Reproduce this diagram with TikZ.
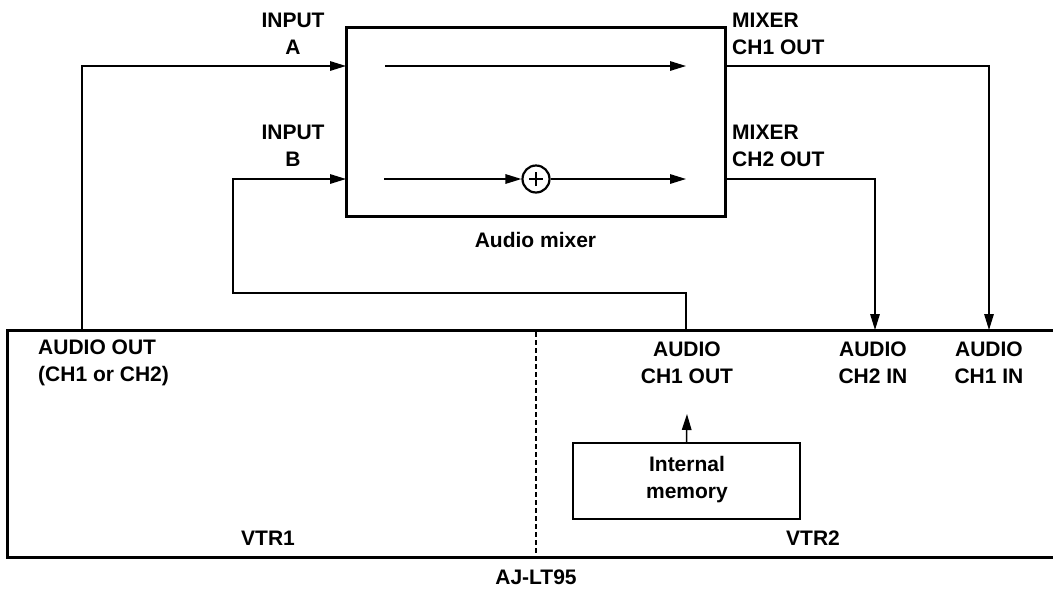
\documentclass[tikz,border=0pt]{standalone}
\usepackage{fontspec}
\setmainfont{Liberation Sans}
\usetikzlibrary{arrows.meta}
\tikzset{
  lbl/.style={font=\fontsize{21}{27}\selectfont\bfseries, inner sep=0pt, align=center},
  lbll/.style={font=\fontsize{21}{27}\selectfont\bfseries, inner sep=0pt, align=left},
  arr/.style={line width=1.5pt, -{Triangle[length=16pt,width=9.5pt]}},
  bigbox/.style={draw, line width=3pt, inner sep=0pt},
  smallbox/.style={draw, line width=1.5pt, inner sep=0pt},
}
\begin{document}
\begin{tikzpicture}[x=1pt,y=-1pt]
\useasboundingbox (0,0) rectangle (1053,590);
\clip (0,0) rectangle (1053,590);
% mixer
\node[bigbox, minimum width=379pt, minimum height=189pt] (mixer) at (535.5,121.5) {};
\coordinate (inA) at (346,66);
\coordinate (inB) at (346,179);
\coordinate (outA) at (725,66);
\coordinate (outB) at (725,179);
\node[lbl] (mixlbl) at (535.5,240) {Audio mixer};
% inner paths
\coordinate (a1s) at (385,66);
\coordinate (a1e) at (686,66);
\coordinate (a2s) at (384,179);
\coordinate (a2e) at (686,179);
\node[draw, circle, line width=2.2pt, minimum size=27pt, inner sep=0pt] (sum) at (536,179) {};
\draw[line width=2.3pt] ([xshift=-7pt]sum.center) -- ([xshift=7pt]sum.center)
  ([yshift=-7pt]sum.center) -- ([yshift=7pt]sum.center);
\draw[arr] (a1s) -- (a1e);
\draw[arr] (a2s) -- (sum.west);
\draw[arr] (sum.east) -- (a2e);
% labels around mixer
\node[lbl] (inpA) at (293,33.5) {INPUT\\A};
\node[lbl] (inpB) at (293,145.5) {INPUT\\B};
\node[lbll, anchor=west] (mxA) at (732,33.5) {MIXER\\CH1 OUT};
\node[lbll, anchor=west] (mxB) at (732,145.5) {MIXER\\CH2 OUT};
% VTR box
\draw[line width=3pt] (1070,330) -- (7,330) -- (7,557) -- (1070,557);
\draw[line width=1.1pt, dash pattern=on 5pt off 3pt] (536,332) -- (536,555);
\node[lbl] (vtr1) at (268,538) {VTR1};
\node[lbl] (vtr2) at (813,538) {VTR2};
\node[lbl] (aj) at (536,577) {AJ-LT95};
% vtr ports
\coordinate (v1out) at (82,330);
\coordinate (v2out) at (686,330);
\coordinate (ch2in) at (875,330);
\coordinate (ch1in) at (989,330);
\coordinate (bturn) at (233,293);
\node[lbll, anchor=west] (aout) at (38,362.5) {AUDIO OUT\\(CH1 or CH2)};
\node[lbl] (a1o) at (687,362.5) {AUDIO\\CH1 OUT};
\node[lbl] (a2i) at (873,362.5) {AUDIO\\CH2 IN};
\node[lbl] (a1i) at (989,362.5) {AUDIO\\CH1 IN};
% memory
\node[smallbox, minimum width=227pt, minimum height=76pt] (mem) at (686.5,481) {};
\node[lbl] (memtxt) at (687,480) {Internal\\memory};
\coordinate (memtip) at (687,414);
% connectors
\draw[arr] (v1out) |- (inA);
\draw[arr] (v2out) |- (bturn) |- (inB);
\draw[arr] (outA) -| (ch1in);
\draw[arr] (outB) -| (ch2in);
\draw[arr] (mem.north) -- (memtip);
\end{tikzpicture}
\end{document}
